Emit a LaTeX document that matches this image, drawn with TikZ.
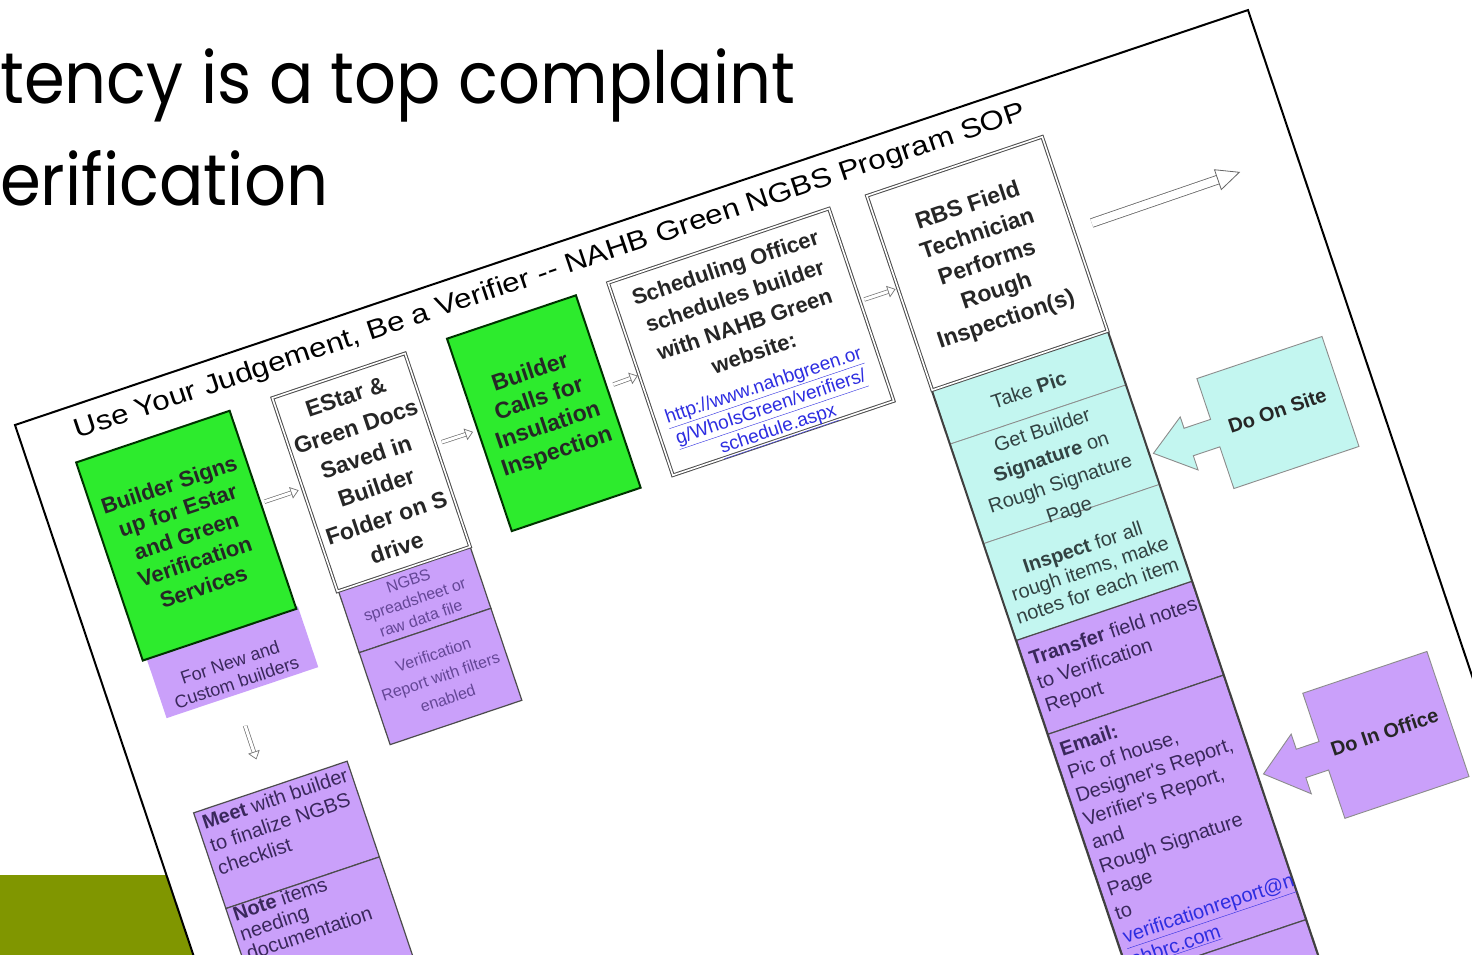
\documentclass[tikz,border=0pt]{standalone}
\usepackage{fontspec}
\usepackage{graphicx}
\usetikzlibrary{arrows.meta}
\setmainfont{Liberation Sans}
\newfontfamily\slidefont{Poppins}
\newfontfamily\diagfont{Liberation Sans}
\newfontfamily\papertitlefont[FakeStretch=1.16]{Liberation Sans}
\newcommand{\fsz}[2]{\fontsize{#1}{#2}\selectfont}
\definecolor{slideolive}{RGB}{128,150,0}
\definecolor{boxgreen}{RGB}{45,235,45}
\definecolor{boxpurple}{RGB}{202,160,250}
\definecolor{boxcyan}{RGB}{195,246,240}
\definecolor{linkblue}{RGB}{45,45,225}
\definecolor{purpletext}{RGB}{58,40,92}
\definecolor{lightpurpletext}{RGB}{100,70,150}
\definecolor{cyantext}{RGB}{50,66,66}
\begin{document}
\begin{tikzpicture}[x=1pt,y=-1pt,
  boxbase/.style={anchor=north west, inner sep=0pt, align=center, text=black!85},
  greenbox/.style={boxbase, fill=boxgreen, draw=green!20!black, line width=2pt},
  whitebox/.style={boxbase, fill=white, draw=black!70, line width=1pt, double=white, double distance=1.6pt},
  purplepad/.style={anchor=north west, inner sep=0pt, fill=boxpurple},
  purplecell/.style={anchor=north west, inner sep=0pt, fill=boxpurple, draw=black!70, line width=1.2pt},
  cyancell/.style={anchor=north west, inner sep=0pt, fill=boxcyan, draw=black!45, line width=0.8pt},
  ctext/.style={inner sep=0pt, align=center, text=cyantext},
  ptext/.style={inner sep=0pt, align=left, text=purpletext},
  flowarrow/.style={draw=black!55, line width=0.7pt, double=white, double distance=3pt, -{Triangle[open, fill=white, line width=0.7pt, length=8pt, width=12pt]}},
  bigarrow/.style={draw=black!60, line width=0.8pt, double=white, double distance=8pt, -{Triangle[open, fill=white, line width=0.8pt, length=24pt, width=22pt]}},
  callout/.style={draw=black!45, line width=0.9pt},
  labeltext/.style={inner sep=0pt, font=\diagfont\bfseries\fsz{20}{24}, text=black!85}
]
\useasboundingbox (0,0) rectangle (1472,955);
\clip (0,0) rectangle (1472,955);
\fill[white] (0,0) rectangle (1472,955);
\fill[slideolive] (0,875) rectangle (420,955);
\node[anchor=base west, inner sep=0pt] (slide1) at (0,103) {\resizebox{795pt}{\height}{\slidefont\fsz{72}{72}tency is a top complaint}};
\node[anchor=base west, inner sep=0pt] (slide2) at (0,205) {\resizebox{328pt}{\height}{\slidefont\fsz{72}{72}erification}};

\begin{scope}[shift={(15,425)}, rotate=18.6, transform shape]
  \draw[line width=2pt, fill=white] (0,0) rectangle (1301,1100);
  \node[anchor=base west, inner sep=0pt, font=\papertitlefont\fsz{27}{27}] (ptitle) at (55,33) {Use Your Judgement, Be a Verifier -{}- NAHB Green NGBS Program SOP};

  % box A with purple pad
  \node[purplepad, minimum width=160pt, minimum height=64pt] (pA) at (50,262) {};
  \node[greenbox, minimum width=162pt, minimum height=209pt, font=\diagfont\bfseries\fsz{22}{27}] (A) at (45,54) {Builder Signs\\up for Estar\\and Green\\Verification\\Services};
  \node[ptext, align=center, font=\diagfont\fsz{18}{21}] (pAt) at (128,304) {For New and\\Custom builders};

  % box B with purple cells
  \node[purplecell, minimum width=139pt, minimum height=65pt] (pB1) at (253,260) {};
  \node[purplecell, minimum width=139pt, minimum height=97pt] (pB2) at (253,325) {};
  \node[whitebox, minimum width=140pt, minimum height=204pt, font=\diagfont\bfseries\fsz{23}{32}] (B) at (252,56) {EStar \&\\Green Docs\\Saved in\\Builder\\Folder on S\\drive};
  \node[ptext, align=center, text=lightpurpletext, font=\diagfont\fsz{16}{20}] (pB1t) at (pB1) {NGBS\\spreadsheet or\\raw data file};
  \node[ptext, align=center, text=lightpurpletext, font=\diagfont\fsz{16}{23}] (pB2t) at (pB2) {Verification\\Report with filters\\enabled};

  % box C
  \node[greenbox, minimum width=136pt, minimum height=203pt, font=\diagfont\bfseries\fsz{23}{28}] (C) at (436,55) {Builder\\Calls for\\Insulation\\Inspection};

  % box D
  \node[whitebox, minimum width=233pt, minimum height=203pt] (D) at (607,54) {};
  \node[inner sep=0pt, align=center, text=black!85, font=\diagfont\bfseries\fsz{22}{30}] (Dt) at (723.5,122) {Scheduling Officer\\schedules builder\\with NAHB Green\\website:};
  \node[inner sep=0pt, align=center, text=linkblue, font=\diagfont\fsz{19}{23}] (Dl) at (722,226) {\underline{http://www.nahbgreen.or}\\\underline{g/WhoIsGreen/verifiers/}\\\underline{schedule.aspx}};

  % column under E
  \node[cyancell, minimum width=185pt, minimum height=57pt] (s1) at (880,259) {};
  \node[cyancell, minimum width=185pt, minimum height=105pt] (s2) at (880,316) {};
  \node[cyancell, minimum width=185pt, minimum height=102pt] (s3) at (880,421) {};
  \node[purplecell, minimum width=185pt, minimum height=99pt] (s4) at (880,523) {};
  \node[purplecell, minimum width=185pt, minimum height=258pt] (s5) at (880,622) {};
  \node[purplecell, minimum width=185pt, minimum height=200pt] (s6) at (880,880) {};
  \draw[line width=2pt, black!75] (s1.north west) -- (s6.south west) (s1.north east) -- (s6.south east);

  % box E
  \node[whitebox, minimum width=185pt, minimum height=205pt, font=\diagfont\bfseries\fsz{23}{30}] (E) at (880,54) {RBS Field\\Technician\\Performs\\Rough\\Inspection(s)};

  \node[ctext, font=\diagfont\fsz{20}{27}] (s1t) at (972,290) {Take \textbf{Pic}};
  \node[ctext, font=\diagfont\fsz{20}{28}] (s2t) at (972,376) {Get Builder\\\textbf{Signature} on\\Rough Signature\\Page};
  \node[ctext, font=\diagfont\fsz{20}{23}] (s3t) at (973,479) {\textbf{Inspect} for all\\rough items, make\\notes for each item};
  \node[ptext, anchor=west, font=\diagfont\fsz{20}{24.7}] (s4t) at (887,572) {\textbf{Transfer} field notes\\to Verification\\Report};
  \node[ptext, anchor=west, font=\diagfont\fsz{20}{24.7}] (s5t) at (887,753) {\textbf{Email:}\\Pic of house,\\Designer's Report,\\Verifier's Report,\\and\\Rough Signature\\Page\\to\\\textcolor{linkblue}{\underline{verificationreport@n}}\\\textcolor{linkblue}{\underline{ahbrc.com}}};

  % box F
  \node[purplecell, minimum width=162pt, minimum height=101pt] (F1) at (45,424) {};
  \node[purplecell, minimum width=162pt, minimum height=300pt] (F2) at (45,525) {};
  \node[ptext, anchor=west, font=\diagfont\fsz{20}{24}] (F1t) at (51,461) {\textbf{Meet} with builder\\to finalize NGBS\\checklist};
  \node[ptext, anchor=north west, font=\diagfont\fsz{20}{21}] (F2t) at (51,526) {\textbf{Note} items\\needing\\documentation};

  % callouts
  \filldraw[callout, fill=boxcyan] (1135,376) -- (1107,376) -- (1107,364) -- (1070,390) -- (1107,420) -- (1107,405) -- (1135,405) -- (1135,449) -- (1267,449) -- (1267,333) -- (1135,333) -- cycle;
  \node[labeltext] (onsite) at (1201,389) {Do On Site};
  \filldraw[callout, fill=boxpurple] (1135,716) -- (1111,716) -- (1111,700) -- (1072,729) -- (1111,763) -- (1111,746) -- (1135,746) -- (1135,797) -- (1266,797) -- (1266,665) -- (1135,665) -- cycle;
  \node[labeltext] (office) at (1200,728) {Do In Office};

  % arrows
  \draw[flowarrow, shorten <=3pt, shorten >=4pt] (A.5) -- (B.175);
  \draw[flowarrow, shorten <=6pt, shorten >=4pt] (B.5) -- (C.176);
  \draw[flowarrow, shorten <=6pt, shorten >=1pt] (C.4) -- (D.178);
  \draw[flowarrow, shorten <=4pt, shorten >=2pt] (D.2) -- (E.177);
  \draw[flowarrow, shorten <=32pt, shorten >=30pt] (pA.-104) -- (F1.95);
  \coordinate (bigtip) at (1242,151);
  \draw[bigarrow, shorten <=19pt] (E.3) -- (bigtip);
\end{scope}
\end{tikzpicture}
\end{document}
